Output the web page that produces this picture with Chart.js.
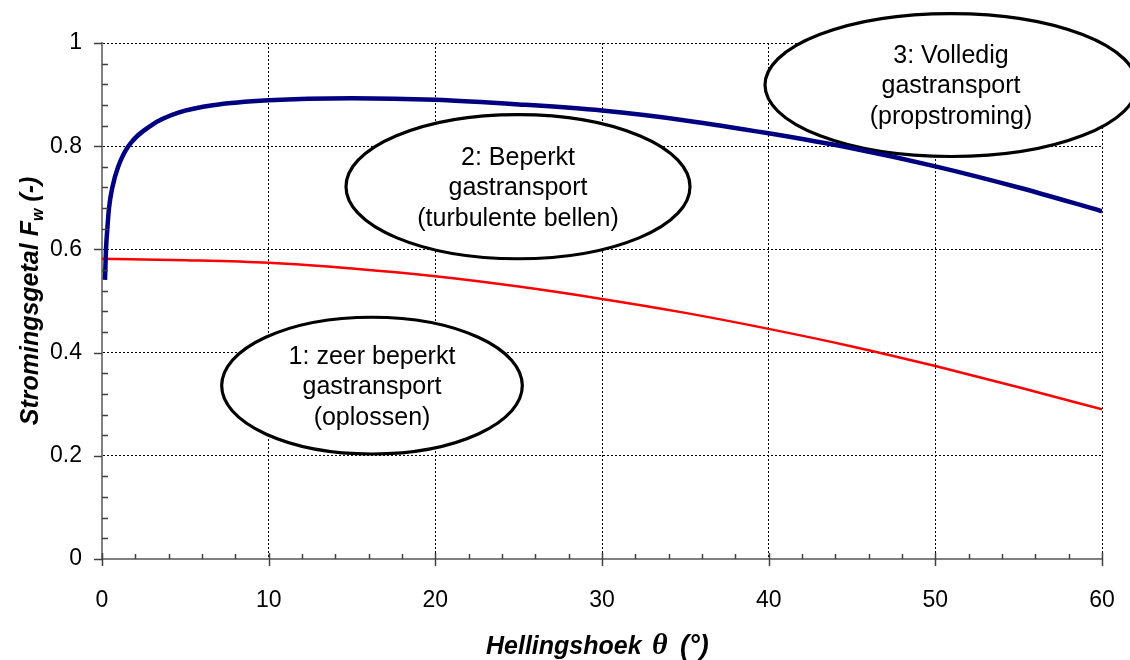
<!DOCTYPE html>
<html>
<head>
<meta charset="utf-8">
<script src="https://cdn.jsdelivr.net/npm/chart.js@4"></script>
<style>
  html, body { margin: 0; padding: 0; background: #fff; }
  #wrap { width: 1130px; height: 660px; }
</style>
</head>
<body>
<div id="wrap"><canvas id="c" width="1130" height="660"></canvas></div>
<script>
// Data
const hoekBlue = [0.18, 0.24, 0.32, 0.42, 0.62, 0.98, 1.58, 2.98, 4.58, 6.8, 10, 15, 20, 25, 30, 35, 40, 45, 50, 55, 60];
const fwBlue   = [0.541, 0.60, 0.64, 0.68, 0.72, 0.761, 0.80, 0.841, 0.865, 0.88, 0.889, 0.893, 0.89, 0.881, 0.869, 0.850, 0.825, 0.796, 0.761, 0.72, 0.674];
const hoekRed  = [0, 5, 10, 15, 20, 25, 30, 35, 40, 45, 50, 55, 60];
const fwRed    = [0.582, 0.579, 0.574, 0.563, 0.548, 0.528, 0.504, 0.477, 0.446, 0.412, 0.374, 0.333, 0.29];

const xTicks = [0, 10, 20, 30, 40, 50, 60];
const yTicks = [0, 0.2, 0.4, 0.6, 0.8, 1];
const yTickLabels = ['0', '0.2', '0.4', '0.6', '0.8', '1'];

// Regime ellipses (data units)
const zoneText = [
  ['1: zeer beperkt', 'gastransport', '(oplossen)'],
  ['2: Beperkt', 'gastransport', '(turbulente bellen)'],
  ['3: Volledig', 'gastransport', '(propstroming)'],
];
const zoneX  = [16.2, 24.96, 50.94];
const zoneY  = [0.336, 0.7216, 0.9185];
const zoneRx = [9.02, 10.32, 11.16];
const zoneRy = [0.1325, 0.1397, 0.1385];

const SANS = '"Liberation Sans", Arial, Helvetica, sans-serif';

const zones = {
  id: 'zones',
  beforeDatasetsDraw(chart) {
    const { ctx, scales: { x, y } } = chart;
    ctx.save();
    zoneText.forEach((lines, i) => {
      const cx = x.getPixelForValue(zoneX[i]);
      const cy = y.getPixelForValue(zoneY[i]);
      const rx = x.getPixelForValue(zoneX[i] + zoneRx[i]) - cx;
      const ry = cy - y.getPixelForValue(zoneY[i] + zoneRy[i]);
      ctx.beginPath();
      ctx.ellipse(cx, cy, rx, ry, 0, 0, Math.PI * 2);
      ctx.fillStyle = '#fff';
      ctx.fill();
      ctx.lineWidth = 3.2;
      ctx.strokeStyle = '#000';
      ctx.stroke();
      ctx.fillStyle = '#000';
      ctx.font = '25px ' + SANS;
      ctx.textAlign = 'center';
      ctx.textBaseline = 'middle';
      lines.forEach((t, k) => ctx.fillText(t, cx, cy + 1.5 + (k - 1) * 30.5));
    });
    ctx.restore();
  },
};

// tick marks (major outside / crossing, minor inside) + axis titles
const axesDeco = {
  id: 'axesDeco',
  afterDraw(chart) {
    const { ctx, chartArea: a, scales: { x, y } } = chart;
    ctx.save();
    ctx.strokeStyle = '#404040';
    ctx.lineWidth = 1.5;
    ctx.beginPath();
    for (let v = 0; v <= 60.001; v += 2) {
      const px = Math.round(x.getPixelForValue(v)) + 0.5;
      const major = Math.abs(v % 10) < 0.001;
      ctx.moveTo(px, a.bottom - (major ? 6 : 5));
      ctx.lineTo(px, a.bottom + (major ? 7 : 0));
    }
    for (let v = 0; v <= 1.0001; v += 0.04) {
      const py = Math.round(y.getPixelForValue(v)) + 0.5;
      const major = Math.abs((v / 0.2) - Math.round(v / 0.2)) < 0.001;
      if (major) { ctx.moveTo(a.left - 8, py); ctx.lineTo(a.left, py); }
      else { ctx.moveTo(a.left, py); ctx.lineTo(a.left + 6, py); }
    }
    ctx.stroke();

    ctx.fillStyle = '#000';
    ctx.textBaseline = 'alphabetic';
    ctx.textAlign = 'left';

    // x title
    const fB = 'italic bold 25px ' + SANS;
    ctx.font = fB; ctx.fillText('Hellingshoek', 486, 654);
    ctx.font = 'italic bold 30px "Liberation Serif", "Times New Roman", serif';
    ctx.fillText('θ', 652, 654);
    ctx.font = 'italic bold 27px ' + SANS;
    ctx.fillText('(°)', 680, 654);

    // y title (rotated)
    ctx.translate(38, 301);
    ctx.rotate(-Math.PI / 2);
    const parts = [['Stromingsgetal ', fB, 0], ['F', fB, 0], ['w', 'italic bold 16px ' + SANS, 5], [' (-)', fB, 0]];
    let w = 0;
    parts.forEach(p => { ctx.font = p[1]; w += ctx.measureText(p[0]).width; });
    let sx = -w / 2;
    parts.forEach(p => { ctx.font = p[1]; ctx.fillText(p[0], sx, p[2]); sx += ctx.measureText(p[0]).width; });
    ctx.restore();
  },
};

const gridColor = c => (c.tick && c.tick.value === 0 ? 'rgba(0,0,0,0)' : '#000');

new Chart(document.getElementById('c'), {
  type: 'line',
  data: {
    datasets: [
      {
        label: 'blauw',
        data: hoekBlue.map((v, i) => ({ x: v, y: fwBlue[i] })),
        borderColor: '#000080',
        borderWidth: 4.5,
        pointRadius: 0,
        cubicInterpolationMode: 'monotone',
      },
      {
        label: 'rood',
        data: hoekRed.map((v, i) => ({ x: v, y: fwRed[i] })),
        borderColor: '#ff0000',
        borderWidth: 2.5,
        pointRadius: 0,
        cubicInterpolationMode: 'monotone',
      },
    ],
  },
  options: {
    responsive: false,
    animation: false,
    layout: { padding: { top: 43, right: 28, left: 0, bottom: 0 } },
    plugins: { legend: { display: false }, tooltip: { enabled: false } },
    scales: {
      x: {
        type: 'linear', min: 0, max: 60,
        afterBuildTicks: s => { s.ticks = xTicks.map(v => ({ value: v })); },
        afterFit: s => { s.height = 101; s.paddingLeft = 0; s.paddingRight = 0; },
        grid: { color: gridColor, lineWidth: 1, drawTicks: false },
        border: { display: true, color: '#808080', width: 2, dash: [2, 2] },
        ticks: { padding: 28, color: '#000', font: { family: SANS, size: 23 }, maxRotation: 0 },
      },
      y: {
        type: 'linear', min: 0, max: 1,
        afterBuildTicks: s => { s.ticks = yTicks.map(v => ({ value: v })); },
        afterFit: s => { s.width = 102; s.paddingTop = 0; s.paddingBottom = 0; },
        grid: { color: gridColor, lineWidth: 1, drawTicks: false },
        border: { display: true, color: '#808080', width: 2, dash: [2, 2] },
        ticks: {
          padding: 20, color: '#000', font: { family: SANS, size: 23 },
          callback: (v, i) => yTickLabels[i],
        },
      },
    },
  },
  plugins: [zones, axesDeco],
});
</script>
</body>
</html>
